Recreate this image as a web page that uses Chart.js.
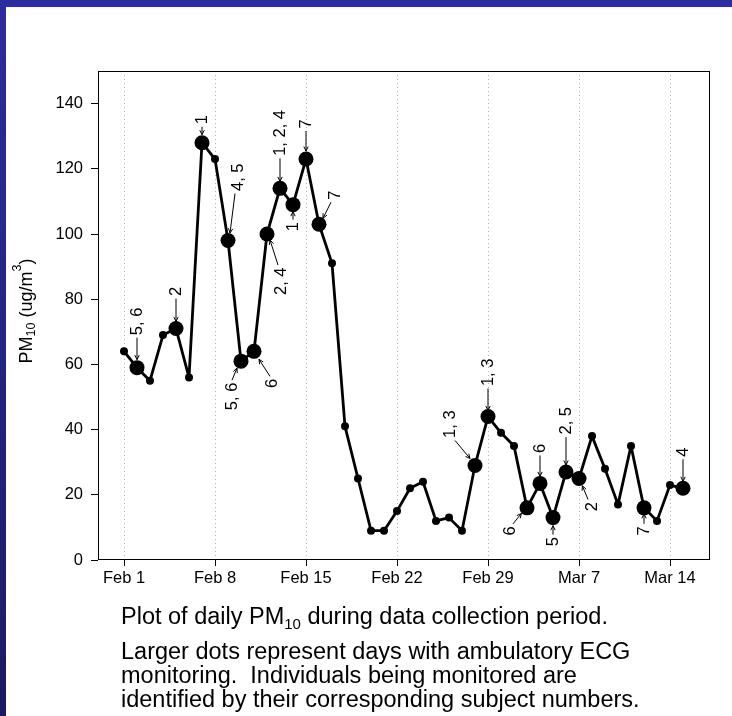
<!DOCTYPE html>
<html><head><meta charset="utf-8">
<script src="https://cdn.jsdelivr.net/npm/chart.js@4"></script>
<style>
html,body{margin:0;padding:0;background:#fff;width:732px;height:716px;overflow:hidden;font-family:"Liberation Sans",Arial,sans-serif;}
#wrap{position:relative;width:732px;height:716px;}
#topbar{position:absolute;left:0;top:0;width:732px;height:7px;background:#2c2ca0;z-index:2;}
#leftbar{position:absolute;left:0;top:0;width:6px;height:716px;background:linear-gradient(#2c2ca0,#1b1b62);z-index:2;}
canvas{position:absolute;left:0;top:0;}
.cap{position:absolute;left:121px;font-size:23.5px;line-height:24px;color:#000;white-space:nowrap;}
.cap sub{font-size:15px;line-height:0;vertical-align:-5px;}
</style></head>
<body><div id="wrap">
<canvas id="c" width="732" height="716"></canvas>
<div id="topbar"></div><div id="leftbar"></div>
<div class="cap" style="top:604px">Plot of daily PM<sub>10</sub> during data collection period.</div>
<div class="cap" style="top:639px">Larger dots represent days with ambulatory ECG<br>monitoring.&nbsp; Individuals being monitored are<br>identified by their corresponding subject numbers.</div>
</div>
<script>
// ---- data ----
const dates = ['Feb 1','Feb 2','Feb 3','Feb 4','Feb 5','Feb 6','Feb 7','Feb 8','Feb 9','Feb 10',
  'Feb 11','Feb 12','Feb 13','Feb 14','Feb 15','Feb 16','Feb 17','Feb 18','Feb 19','Feb 20',
  'Feb 21','Feb 22','Feb 23','Feb 24','Feb 25','Feb 26','Feb 27','Feb 28','Feb 29','Mar 1',
  'Mar 2','Mar 3','Mar 4','Mar 5','Mar 6','Mar 7','Mar 8','Mar 9','Mar 10','Mar 11',
  'Mar 12','Mar 13','Mar 14','Mar 15'];
const pm10 = [64,59,55,69,71,56,128,123,98,61,
  64,100,114,109,123,103,91,41,25,9,
  9,15,22,24,12,13,9,29,44,39,
  35,16,23.5,13,27,25,38,28,17,35,
  16,12,23,22];
const subjects = ['','5, 6','','','2','','1','','4, 5','5, 6',
  '6','2, 4','1, 2, 4','1','7','7','','','','',
  '','','','','','','','1, 3','1, 3','',
  '','6','6','5','2, 5','2','','','','',
  '7','','','4'];
const xTickLabels = ['Feb 1','Feb 8','Feb 15','Feb 22','Feb 29','Mar 7','Mar 14'];
const yTickValues = [0,20,40,60,80,100,120,140];

// ---- label placement (pixel offsets from each point: textDx, arrow start dx,dy, arrow end dx,dy) ----
const labelPlacement = {
  1:[0,0,-30,0,-8], 4:[0,0,-30,0,-7], 6:[0,0,-16,0,-8], 8:[10,7,-47,2,-7.5],
  9:[-9,-9,19,-4,7], 10:[18,16,25,5,8], 11:[14,11,31,3,6], 12:[0,0,-30,0,-7],
  13:[0,0,15,0,7], 14:[0,0,-28,0,-8], 15:[16,12,-22,4,-6], 27:[-25,-20,-25,-5,-7],
  28:[0,0,-28,0,-6], 31:[-17,-14,16,-5.6,5.6], 32:[0,0,-28,0,-7], 33:[0,0,17,0,8],
  34:[0,0,-35,0,-7], 35:[13,9,21,3.4,7.3], 40:[0,0,16,0,6], 43:[0,0,-29,0,-7]
};

const FONT = '"Liberation Sans", Arial, sans-serif';
Chart.defaults.font.family = FONT;
Chart.defaults.color = '#000';

const points = pm10.map((v,i)=>({x:i,y:v}));
const xTickValues = xTickLabels.map(l=>dates.indexOf(l));

const annotatePlugin = {
  id:'annot',
  beforeDatasetsDraw(chart){
    const {ctx, chartArea:a} = chart;
    ctx.save();
    ctx.strokeStyle='#000'; ctx.lineWidth=1;
    ctx.strokeRect(a.left+0.5, a.top+0.5, a.right-a.left, a.bottom-a.top-1);
    ctx.restore();
  },
  afterDatasetsDraw(chart){
    const {ctx} = chart;
    const xs = chart.scales.x, ys = chart.scales.y;
    ctx.save();
    ctx.font = '16.5px ' + FONT;
    ctx.fillStyle='#000'; ctx.strokeStyle='#000'; ctx.lineWidth=1;
    subjects.forEach((lab,i)=>{
      if(!lab) return;
      const p = labelPlacement[i]; if(!p) return;
      const px = xs.getPixelForValue(i), py = ys.getPixelForValue(pm10[i]);
      const sx = px+p[1], sy = py+p[2], ex = px+p[3], ey = py+p[4];
      ctx.beginPath(); ctx.moveTo(sx,sy); ctx.lineTo(ex,ey); ctx.stroke();
      const ang = Math.atan2(ey-sy, ex-sx), L=5, w=0.45;
      ctx.beginPath();
      ctx.moveTo(ex - L*Math.cos(ang-w), ey - L*Math.sin(ang-w));
      ctx.lineTo(ex,ey);
      ctx.lineTo(ex - L*Math.cos(ang+w), ey - L*Math.sin(ang+w));
      ctx.stroke();
      const above = p[2] < 0;
      const tx = px + p[0], ty = above ? sy-2.5 : sy+2.5;
      ctx.save(); ctx.translate(tx,ty); ctx.rotate(-Math.PI/2);
      ctx.textAlign = above ? 'left' : 'right'; ctx.textBaseline='middle';
      ctx.fillText(lab,0,0); ctx.restore();
    });
    ctx.restore();
  },
  afterDraw(chart){
    // y-axis title with subscript / superscript
    const {ctx} = chart;
    const big = '18px ' + FONT, small = '12.5px ' + FONT;
    const parts = [['PM',big,0],['10',small,3.5],[' (ug/m',big,0],['3',small,-11],[')',big,0]];
    ctx.save();
    let total = 0;
    parts.forEach(pt=>{ctx.font=pt[1]; total += ctx.measureText(pt[0]).width;});
    ctx.translate(31.5, 311); ctx.rotate(-Math.PI/2);
    ctx.fillStyle='#000'; ctx.textBaseline='alphabetic'; ctx.textAlign='left';
    let x = -total/2;
    parts.forEach(pt=>{ctx.font=pt[1]; ctx.fillText(pt[0], x, pt[2]); x += ctx.measureText(pt[0]).width;});
    ctx.restore();
  }
};

new Chart(document.getElementById('c'), {
  type:'line',
  data:{datasets:[{
    data: points,
    borderColor:'#000', borderWidth:2.8, tension:0,
    borderJoinStyle:'round', borderCapStyle:'round',
    pointBackgroundColor:'#000', pointBorderColor:'#000', pointBorderWidth:0,
    pointRadius: c => subjects[c.dataIndex] ? 7.5 : 4,
    pointHoverRadius: c => subjects[c.dataIndex] ? 7.5 : 4
  }]},
  options:{
    responsive:false, animation:false, devicePixelRatio:1,
    layout:{padding:{top:71,right:23,left:0,bottom:0}},
    plugins:{legend:{display:false},tooltip:{enabled:false}},
    scales:{
      x:{type:'linear', min:-2, max:45,
        afterBuildTicks: s => { s.ticks = xTickValues.map(v=>({value:v})); },
        afterFit: s => { s.height = 156; },
        ticks:{callback: v => dates[v], font:{size:16.5}, padding:3, maxRotation:0, autoSkip:false, color:'#000'},
        grid:{color:'#b0b0b0', lineWidth:1, drawTicks:true, tickLength:6, tickColor:'#000', tickWidth:1, tickBorderDash:[]},
        border:{display:false, dash:[1,3]}
      },
      y:{type:'linear', min:0, max:150,
        afterBuildTicks: s => { s.ticks = yTickValues.map(v=>({value:v})); },
        afterFit: s => { s.width = 98; },
        ticks:{font:{size:16.5}, padding:8, color:'#000'},
        grid:{drawOnChartArea:false, drawTicks:true, tickLength:7, tickColor:'#000'},
        border:{display:false}
      }
    }
  },
  plugins:[annotatePlugin]
});
</script>
</body></html>
